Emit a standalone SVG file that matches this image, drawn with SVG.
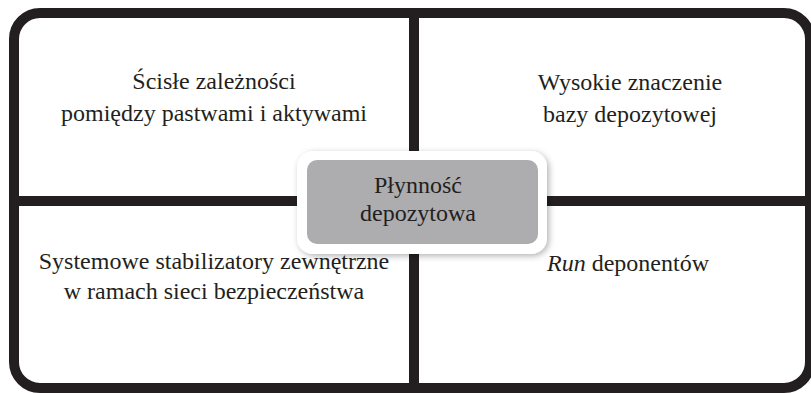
<svg xmlns="http://www.w3.org/2000/svg" width="811" height="393" viewBox="0 0 811 393">
  <defs>
    <style>
      .line { stroke: #231f20; stroke-width: 10; fill: none; }
      .txt { font-family: "Liberation Serif", Tinos, "Times New Roman", "DejaVu Serif", "Noto Serif", serif; font-size: 24px; fill: #231f20; text-anchor: middle; }
      .it { font-style: italic; }
    </style>
    <filter id="shadow" x="-20%" y="-30%" width="140%" height="160%">
      <feDropShadow dx="2" dy="2" stdDeviation="3" flood-color="#000" flood-opacity="0.3"/>
    </filter>
  </defs>
  <rect width="811" height="393" fill="#ffffff"/>
  <g id="connectors">
    <rect class="line" x="14" y="13" width="796" height="375" rx="26" ry="26"/>
    <line class="line" x1="414" y1="13" x2="414" y2="388"/>
    <line class="line" x1="14" y1="201" x2="810" y2="201"/>
  </g>
  <g id="top-left">
    <text class="txt" x="214" y="89">Ścisłe zależności</text>
    <text class="txt" x="214" y="121">pomiędzy pastwami i aktywami</text>
  </g>
  <g id="top-right">
    <text class="txt" x="630" y="90">Wysokie znaczenie</text>
    <text class="txt" x="630" y="122">bazy depozytowej</text>
  </g>
  <g id="bottom-left">
    <text class="txt" x="214" y="269">Systemowe stabilizatory zewnętrzne</text>
    <text class="txt" x="214" y="299">w ramach sieci bezpieczeństwa</text>
  </g>
  <g id="bottom-right">
    <text class="txt" x="628" y="271"><tspan class="it">Run</tspan> deponentów</text>
  </g>
  <g id="center">
    <rect x="297" y="151" width="250" height="103" rx="16" ry="16" fill="#ffffff" filter="url(#shadow)"/>
    <rect x="307" y="160" width="231" height="84" rx="10" ry="10" fill="#adadb0"/>
    <text class="txt" x="418" y="193">Płynność</text>
    <text class="txt" x="418" y="221">depozytowa</text>
  </g>
</svg>
